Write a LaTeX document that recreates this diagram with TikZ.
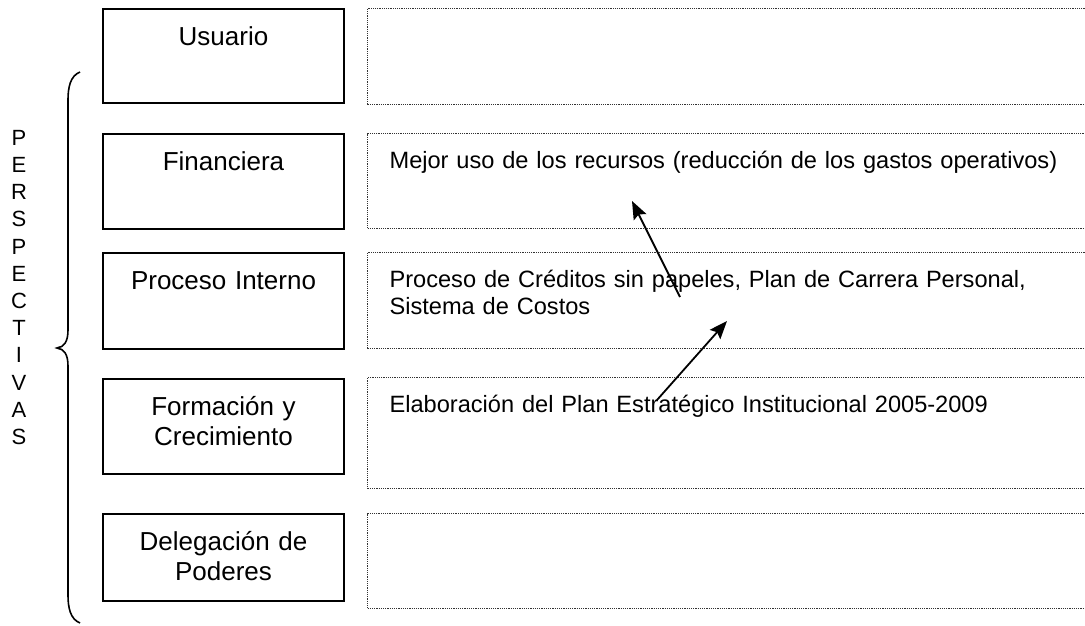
\documentclass[tikz,border=0pt]{standalone}
\usepackage{fontspec}
\setmainfont{Liberation Sans}
\usepackage{tikz}
\usetikzlibrary{arrows.meta}
\tikzstyle{persp} = [rectangle,
                     draw=black,
                     line width=1.8pt,
                     anchor=north,
                     inner xsep=4pt,
                     inner ysep=0pt,
                     text width=233pt,
                     align=center,
                     text height=36.5pt,
                     font=\fontsize{26}{30}\selectfont]
\tikzstyle{objetivo} = [rectangle,
                        draw=black!80,
                        line width=1.2pt,
                        dash pattern=on 1.2pt off 1pt,
                        anchor=north west,
                        inner xsep=22pt,
                        inner ysep=0pt,
                        text width=679pt,
                        align=left,
                        text height=34.5pt,
                        font=\fontsize{23.6}{27.5}\selectfont]
\tikzstyle{arrow} = [line width=1.8pt,
                     ->,
                     >={Stealth[length=18pt,width=14pt,inset=3pt]}]
\begin{document}
\begin{tikzpicture}[x=1pt,y=-1pt]
    \useasboundingbox (0,0) rectangle (1085,626);

    \node (usuario) [persp, text depth=57.5pt] at (223.5,8)   {Usuario};
    \node (finan)   [persp, text depth=58.5pt] at (223.5,133) {Financiera};
    \node (proc)    [persp, text depth=59.5pt] at (223.5,252) {Proceso Interno};
    \node (form)    [persp, text depth=58.5pt] at (223.5,378) {Formación y\\Crecimiento};
    \node (deleg)   [persp, text depth=50.5pt] at (223.5,513) {Delegación de\\Poderes};

    \node (objusu)   [objetivo, text depth=61.5pt] at (367,8)   {};
    \node (objfin)   [objetivo, text depth=60.5pt] at (367,133) {Mejor uso de los recursos (reducción de los gastos operativos)};
    \node (objproc)  [objetivo, text depth=61.5pt] at (367,252) {Proceso de Créditos sin papeles, Plan de Carrera Personal,\\Sistema de Costos};
    \node (objform)  [objetivo, text depth=76.5pt] at (367,377) {Elaboración del Plan Estratégico Institucional 2005-2009};
    \node (objdeleg) [objetivo, text depth=60.5pt] at (367,513) {};

    \node (perspectivas) [inner sep=0pt, align=center, font=\fontsize{22}{27.2}\selectfont]
        at (19,287.5) {P\\E\\R\\S\\P\\E\\C\\T\\I\\V\\A\\S};

    % llave
    \draw [line width=1.6pt] (80,72) .. controls (70,76) and (68,88) .. (68,100) -- (68,330)
        .. controls (68,342) and (64,347) .. (57,348)
        .. controls (64,349) and (68,354) .. (68,366) -- (68,595)
        .. controls (68,607) and (70,619) .. (80,623);

    \coordinate (procini)   at (680,297);
    \coordinate (finpunta)  at (632,201);
    \coordinate (formini)   at (657,400);
    \coordinate (procpunta) at (727,321);

    \draw [arrow] (procini) -- (finpunta);
    \draw [arrow] (formini) -- (procpunta);

\end{tikzpicture}
\end{document}
